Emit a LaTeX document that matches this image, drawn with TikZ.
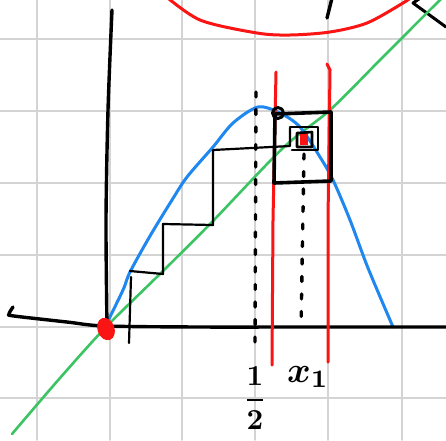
\documentclass[tikz,border=0pt]{standalone}
\usepackage{graphicx}
\begin{document}
\begin{tikzpicture}[x=1pt,y=-1pt,line cap=round,line join=round,
  gridline/.style={draw={rgb,255:red,212;green,212;blue,212},line width=1.8},
  axisline/.style={draw=black,line width=3.4},
  cobweb/.style={draw=black,line width=2.2},
  boxline/.style={draw=black,line width=3.6},
  redline/.style={draw={rgb,255:red,250;green,20;blue,20},line width=3},
  blueline/.style={draw={rgb,255:red,30;green,135;blue,240},line width=3},
  greenline/.style={draw={rgb,255:red,60;green,195;blue,100},line width=2.6},
  dotline/.style={draw=black,line width=3.4,dash pattern=on 5 off 12.5},
  lbl/.style={inner sep=0pt,text=black}]
\definecolor{myred}{RGB}{250,20,20}
\useasboundingbox (0,0) rectangle (446,440);
\fill[white] (0,0) rectangle (446,440);
\begin{scope}
\clip (0,0) rectangle (446,440);
% grid
\foreach \gx in {37,110,182,255,328,402} \draw[gridline] (\gx,0) -- (\gx,440);
\foreach \gy in {39,111,183,255,327,398} \draw[gridline] (0,\gy) -- (446,\gy);
% top red curve
\draw[redline] plot[smooth] coordinates {(163,-6) (200,20) (257,33) (290,35) (330,32) (367,23) (403,3) (416,-6)};
% top black stroke and arrow
\draw[axisline] (332,-2) -- (327,18);
\draw[axisline,line width=3] (446,27) -- (413,3) -- (419,-1);
% green diagonal
\draw[greenline] plot[smooth] coordinates {(12,434) (60,378) (106,327) (163,271) (212,222) (283,148) (330,110) (380,60) (440,0) (452,-10)};
% blue curve
\draw[blueline] plot[smooth] coordinates {(105,327) (123,290) (130,272) (150,236) (172,200) (187,177) (213,147) (233,123) (258,107) (280,113) (300,127) (320,157) (333,180) (350,220) (368,268) (393,327)};
% axes
\draw[axisline] plot[smooth] coordinates {(13,307) (9,314) (14,316) (67,322) (105,326) (200,327) (300,327) (446,327)};
\draw[axisline] plot[smooth] coordinates {(112,10) (108,110) (106,220) (107,327)};
% red verticals
\draw[redline] (276,72) -- (273,220) -- (272,365);
\draw[redline] (327,64) -- (330,70) -- (328,220) -- (328,362);
% dotted lines
\draw[dotline] (256,92) -- (255,342);
\draw[dotline] (304,154) -- (301,328);
% cobweb
\draw[cobweb] (129,343) -- (131,277);
\draw[cobweb] (130,271) -- (163,274) -- (163,224) -- (213,225) -- (213,150) -- (290,146) -- (290,128);
% big square
\draw[boxline] (275,114) -- (331,112) -- (331,181) -- (274,183) -- cycle;
\draw[boxline,line width=3] (278,113) circle (5.5);
% medium and small squares
\draw[cobweb,line width=2.6] (290,127) -- (318,127) -- (318,150) -- (292,150);
\fill[myred] (300,132) rectangle (308,145);
\draw[cobweb,line width=2.6] (297,133) -- (312,132) -- (312,147) -- (297,147) -- cycle;
% red dot at origin
\fill[myred,rotate around={20:(106,329)}] (106,329) ellipse (8.5 and 11.5);
\end{scope}
% labels
\node[lbl] (half) at (255,398) {\scalebox{2.9}{\boldmath$\displaystyle\frac{1}{2}$}};
\node[lbl] (xone) at (308,377) {\scalebox{3.6}{\boldmath$x_1$}};
\end{tikzpicture}
\end{document}
